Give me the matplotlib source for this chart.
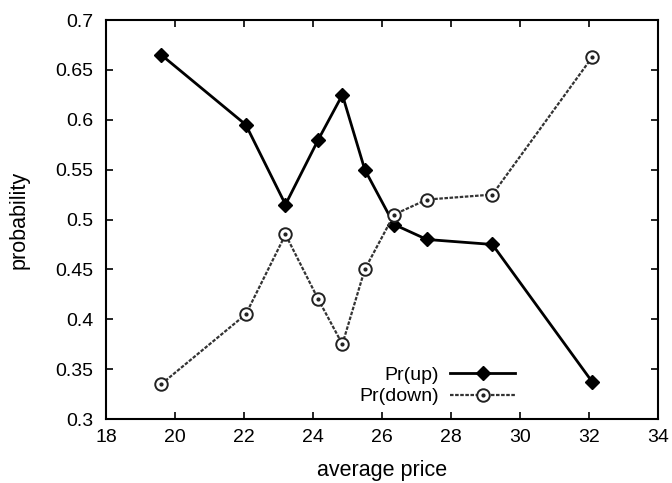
import matplotlib
matplotlib.use("Agg")
import matplotlib.pyplot as plt

# average price buckets and the probability of an up / down move
price = [19.6, 22.05, 23.2, 24.15, 24.85, 25.5, 26.35, 27.3, 29.2, 32.1]
pr_up = [0.665, 0.595, 0.515, 0.58, 0.625, 0.55, 0.495, 0.48, 0.475, 0.337]
pr_down = [0.335, 0.405, 0.485, 0.42, 0.375, 0.45, 0.505, 0.52, 0.525, 0.663]

x_ticks = [18, 20, 22, 24, 26, 28, 30, 32, 34]
y_ticks = [0.3, 0.35, 0.4, 0.45, 0.5, 0.55, 0.6, 0.65, 0.7]

plt.rcParams["font.family"] = ["Liberation Sans", "DejaVu Sans"]
plt.rcParams["font.size"] = 14

fig = plt.figure(figsize=(6.72, 4.83), dpi=100)
ax = fig.add_axes([0.158, 0.1325, 0.821, 0.826])

up_line, = ax.plot(price, pr_up, color="black", lw=2.0, marker="D",
                   markersize=7, markerfacecolor="black",
                   markeredgecolor="black")
down_line, = ax.plot(price, pr_down, color="#333333", lw=1.6,
                     linestyle=(0, (1.6, 0.7)), marker="o", markersize=9,
                     markerfacecolor="white", markeredgecolor="#222222",
                     markeredgewidth=1.4)
down_dot, = ax.plot(price, pr_down, linestyle="none", marker="o",
                    markersize=2, color="#222222")

ax.set_xlim(x_ticks[0], x_ticks[-1])
ax.set_ylim(y_ticks[0], y_ticks[-1])
ax.set_xticks(x_ticks)
ax.set_yticks(y_ticks)
ax.set_xticklabels([str(v) for v in x_ticks])
ax.set_yticklabels([f"{v:g}" for v in y_ticks])

ax.tick_params(direction="in", length=5, width=1.2, top=True, right=True,
               labeltop=False, labelright=False)
ax.tick_params(axis="y", pad=9)
ax.tick_params(axis="x", pad=7)
for s in ax.spines.values():
    s.set_linewidth(1.5)

ax.set_xlabel("average price", fontsize=15.5, labelpad=10)
ax.set_ylabel("probability", fontsize=15.5, labelpad=19)

ax.legend([up_line, (down_line, down_dot)], ["Pr(up)", "Pr(down)"],
          loc="lower right", bbox_to_anchor=(0.772, -0.01),
          frameon=False, markerfirst=False, numpoints=1,
          handlelength=3.3, handletextpad=0.6, labelspacing=0.22,
          fontsize=14)

fig.savefig("out.png", dpi=100)
